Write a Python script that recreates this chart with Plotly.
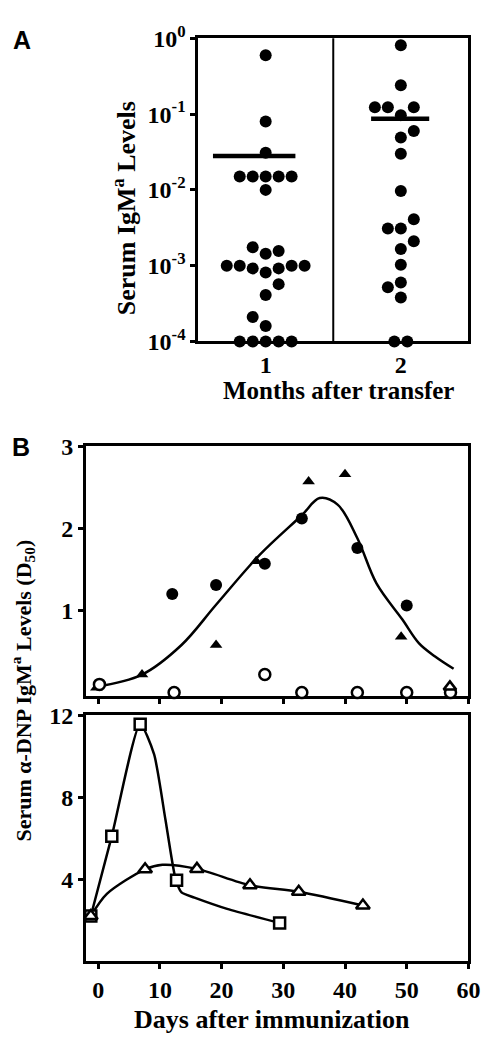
import plotly.graph_objects as go

# ---------------- Panel A data ----------------
month1_vals = [0.6, 0.08, 0.031, 0.015, 0.015, 0.015, 0.015, 0.015, 0.01,
               0.00175, 0.00156, 0.00143, 0.001, 0.001, 0.001, 0.001,
               0.00092, 0.00092, 0.00081, 0.00057, 0.00041, 0.00021, 0.00016,
               0.0001, 0.0001, 0.0001, 0.0001, 0.0001]
month1_slot = [0, 0, 0, -2, -1, 0, 1, 2, 0,
               -1, 1, 0, -3, -2, 2, 3,
               -1, 1, 0, 1, 0, -1, 0,
               -2, -1, 0, 1, 2]
month2_vals = [0.81, 0.24, 0.123, 0.123, 0.123, 0.097, 0.06, 0.049, 0.03,
               0.0097, 0.0041, 0.0031, 0.0031, 0.0021, 0.00166, 0.00103,
               0.0006, 0.00052, 0.00038, 0.0001, 0.0001]
month2_slot = [0, 0, -2, -1, 1, 0, 1, 0, 0,
               0, 1, -1, 0, 1, 0, 0,
               0, -1, 0, -0.5, 0.5]
month_means = [0.028, 0.087]
months = [1, 2]
a_tickvals = [1e-4, 1e-3, 1e-2, 1e-1, 1]
a_ticktext = ["10<sup>-4</sup>", "10<sup>-3</sup>", "10<sup>-2</sup>",
              "10<sup>-1</sup>", "10<sup>0</sup>"]

# ---------------- Panel B (top) data ----------------
fc_x = [12.0, 19.1, 27.0, 33.0, 42.0, 50.0]
fc_y = [1.2, 1.31, 1.57, 2.12, 1.76, 1.06]
ft_x = [-0.3, 7.1, 19.1, 25.6, 34.1, 40.0, 49.1]
ft_y = [0.06, 0.22, 0.58, 1.6, 2.57, 2.66, 0.68]
oc_x = [0.2, 12.3, 27.0, 33.0, 42.0, 50.0, 57.1]
oc_y = [0.1, 0.0, 0.22, 0.0, 0.0, 0.0, 0.0]
ot_top_x = [57.0]
ot_top_y = [0.07]
fit_x = [-0.4, 7.1, 13.5, 19.1, 26.2, 33.0, 35.9, 38.8, 42.0, 45.1, 49.3, 52.0, 54.6, 57.6]
fit_y = [0.07, 0.22, 0.58, 1.07, 1.68, 2.16, 2.37, 2.29, 1.88, 1.33, 0.89, 0.6, 0.44, 0.29]

# ---------------- Panel B (bottom) data ----------------
sq_x = [-1.2, 2.2, 6.8, 12.7, 29.4]
sq_y = [2.2, 6.1, 11.57, 3.95, 1.86]
sq_curve_x = [-1.2, 2.2, 6.8, 9.05, 10.9, 12.5, 13.5, 15.6, 20.9, 29.4]
sq_curve_y = [2.2, 6.1, 11.57, 10.1, 6.9, 4.06, 3.35, 3.1, 2.55, 1.86]
tri_x = [-1.2, 7.6, 16.0, 24.6, 32.5, 42.9]
tri_y = [2.2, 4.48, 4.5, 3.7, 3.38, 2.71]
tri_curve_x = [-1.2, 1.4, 7.6, 10.4, 16.0, 24.6, 32.5, 42.9]
tri_curve_y = [2.2, 3.28, 4.48, 4.7, 4.5, 3.7, 3.38, 2.71]
days_ticks = [0, 10, 20, 30, 40, 50, 60]

SERIF = "Liberation Serif"
SANS = "Liberation Sans"
SLOT = 0.096

fig = go.Figure()

# Panel A dots
fig.add_trace(go.Scatter(
    x=[months[0] + s * SLOT for s in month1_slot], y=month1_vals,
    mode="markers", marker=dict(size=12, color="black"),
    xaxis="x", yaxis="y", cliponaxis=False))
fig.add_trace(go.Scatter(
    x=[months[1] + s * SLOT for s in month2_slot], y=month2_vals,
    mode="markers", marker=dict(size=12, color="black"),
    xaxis="x", yaxis="y", cliponaxis=False))
# mean bars
mean_ext = [(-0.39, 0.22), (-0.22, 0.21)]
for m, mv, (lo, hi) in zip(months, month_means, mean_ext):
    fig.add_trace(go.Scatter(x=[m + lo, m + hi], y=[mv, mv], mode="lines",
                             line=dict(color="black", width=4.5),
                             xaxis="x", yaxis="y"))

# Panel B top
fig.add_trace(go.Scatter(x=fit_x, y=fit_y, mode="lines",
                         line=dict(color="black", width=2.5, shape="spline", smoothing=1.0),
                         xaxis="x2", yaxis="y2"))
fig.add_trace(go.Scatter(x=fc_x, y=fc_y, mode="markers",
                         marker=dict(size=12, color="black", symbol="circle"),
                         xaxis="x2", yaxis="y2", cliponaxis=False))
fig.add_trace(go.Scatter(x=ft_x, y=ft_y, mode="markers",
                         marker=dict(size=11, color="black", symbol="triangle-up"),
                         xaxis="x2", yaxis="y2", cliponaxis=False))
fig.add_trace(go.Scatter(x=oc_x, y=oc_y, mode="markers",
                         marker=dict(size=11, color="white", symbol="circle",
                                     line=dict(color="black", width=2.5)),
                         xaxis="x2", yaxis="y2", cliponaxis=False))
fig.add_trace(go.Scatter(x=ot_top_x, y=ot_top_y, mode="markers",
                         marker=dict(size=11, color="white", symbol="triangle-up",
                                     line=dict(color="black", width=2.5)),
                         xaxis="x2", yaxis="y2", cliponaxis=False))

# Panel B bottom
fig.add_trace(go.Scatter(x=sq_curve_x, y=sq_curve_y, mode="lines",
                         line=dict(color="black", width=2.5, shape="spline", smoothing=0.6),
                         xaxis="x3", yaxis="y3"))
fig.add_trace(go.Scatter(x=tri_curve_x, y=tri_curve_y, mode="lines",
                         line=dict(color="black", width=2.5, shape="spline", smoothing=0.8),
                         xaxis="x3", yaxis="y3"))
fig.add_trace(go.Scatter(x=sq_x, y=sq_y, mode="markers",
                         marker=dict(size=11, color="white", symbol="square",
                                     line=dict(color="black", width=2.5)),
                         xaxis="x3", yaxis="y3", cliponaxis=False))
fig.add_trace(go.Scatter(x=tri_x, y=tri_y, mode="markers",
                         marker=dict(size=12, color="white", symbol="triangle-up",
                                     line=dict(color="black", width=2.5)),
                         xaxis="x3", yaxis="y3", cliponaxis=False))

W, H = 497, 1043
def px_x(p):
    return p / W
def px_y(p):
    return 1 - p / H

tickfont = dict(family=SERIF, size=24, color="black", weight="bold")
axcommon = dict(showline=True, mirror=True, linecolor="black", linewidth=2.5,
                showgrid=False, zeroline=False, layer="below traces",
                tickfont=tickfont, tickcolor="black", tickwidth=2.5, ticklen=5)

fig.update_layout(
    width=W, height=H, margin=dict(l=0, r=0, t=0, b=0),
    paper_bgcolor="white", plot_bgcolor="white", showlegend=False,
    font=dict(family=SERIF, color="black"),
    xaxis=dict(domain=[px_x(203), px_x(480)], range=[0.5, 2.5], anchor="y",
               tickvals=months, ticktext=["1", "2"], ticks="", **axcommon),
    yaxis=dict(domain=[px_y(334), px_y(22)], type="log", range=[-4, 0], anchor="x",
               tickvals=a_tickvals, ticktext=a_ticktext,
               ticks="outside", **axcommon),
    xaxis2=dict(domain=[px_x(88), px_x(480)], range=[-2, 60], anchor="y2",
                tickvals=days_ticks, showticklabels=False, ticks="outside", **axcommon),
    yaxis2=dict(domain=[px_y(699), px_y(442)], range=[-0.04, 3], anchor="x2",
                tickvals=[1, 2, 3], ticktext=["1", "2", "3"],
                ticks="outside", **axcommon),
    xaxis3=dict(domain=[px_x(88), px_x(480)], range=[-2, 60], anchor="y3",
                tickvals=days_ticks, ticktext=[str(d) for d in days_ticks],
                ticks="outside", **axcommon),
    yaxis3=dict(domain=[px_y(972), px_y(719)], range=[0, 12], anchor="x3",
                tickvals=[4, 8, 12], ticktext=["4", "8", "12"],
                ticks="outside", **axcommon),
)

# divider in panel A
fig.add_shape(type="line", xref="x", yref="y domain", x0=1.5, x1=1.5, y0=0, y1=1,
              line=dict(color="black", width=2))

def tf(size):
    return dict(family=SERIF, size=size, color="black", weight="bold")

annos = [
    dict(text="A", x=px_x(23), y=px_y(24), font=dict(family=SANS, size=25, color="black", weight="bold")),
    dict(text="B", x=px_x(22), y=px_y(443), font=dict(family=SANS, size=25, color="black", weight="bold")),
    dict(text="Serum IgM<sup>a</sup> Levels", x=px_x(127), y=px_y(197), textangle=-90,
         font=tf(26)),
    dict(text="Months after transfer", x=px_x(347), y=px_y(385), font=tf(25)),
    dict(text="Serum α-DNP IgM<sup>a</sup> Levels (D<sub>50</sub>)", x=px_x(23),
         y=px_y(693), textangle=-90, font=tf(22)),
    dict(text="Days after immunization", x=px_x(279), y=px_y(1032), font=tf(26)),
]
for a in annos:
    fig.add_annotation(xref="paper", yref="paper", showarrow=False,
                       xanchor="center", yanchor="middle", **a)

fig.write_html("out.html", config={"displayModeBar": False},
               post_script="document.body.style.margin='0';")
